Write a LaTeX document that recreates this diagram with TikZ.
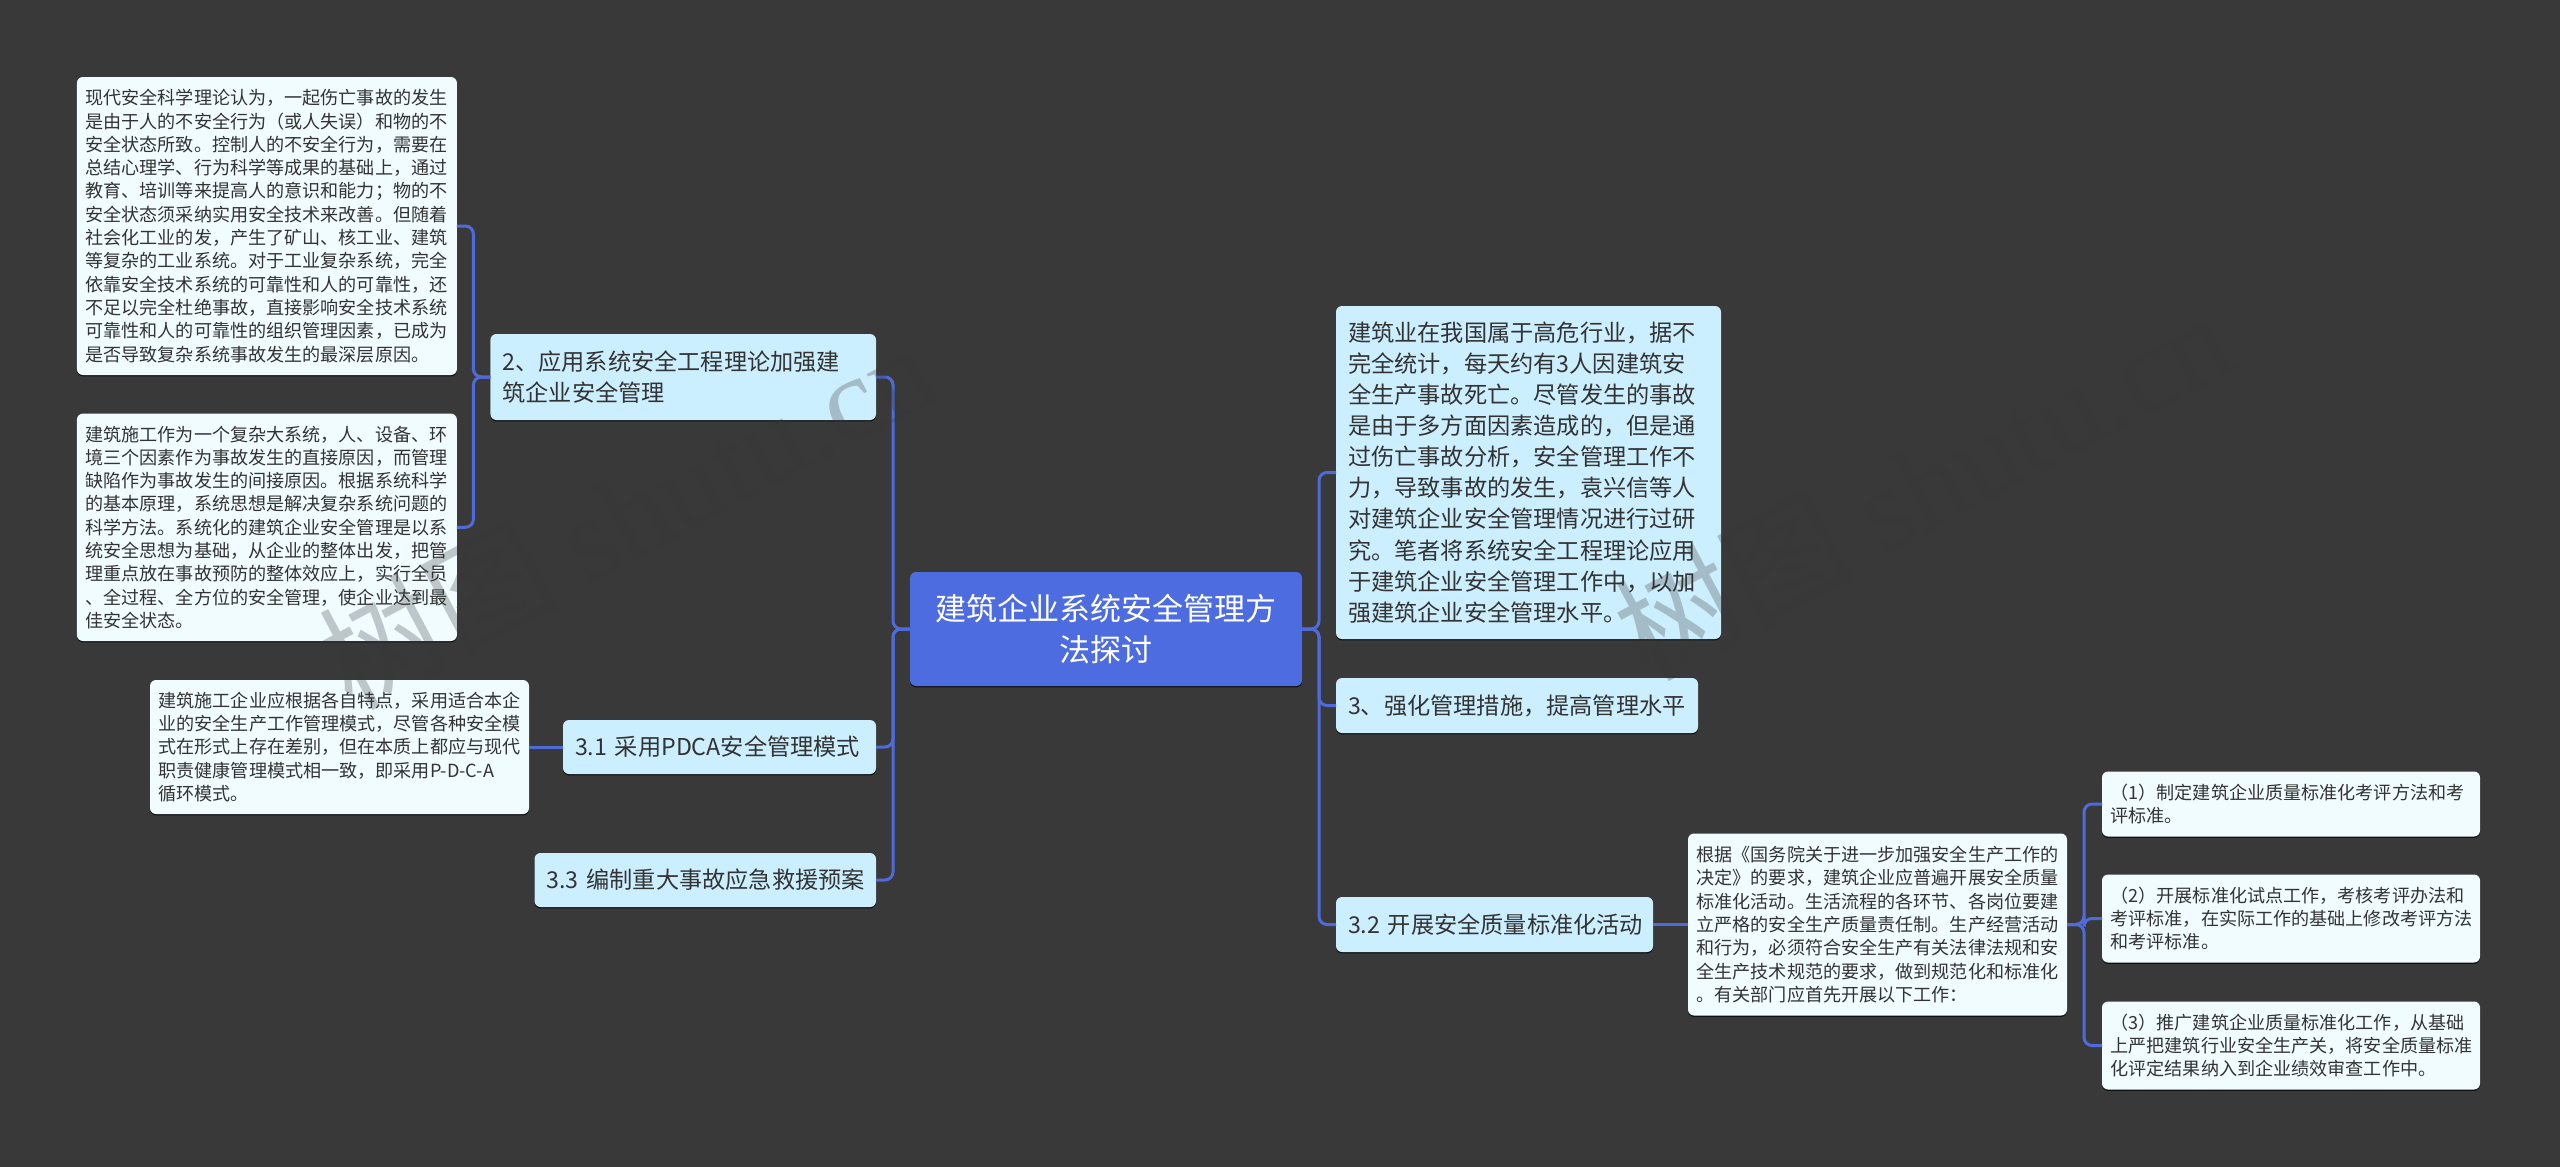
\documentclass[tikz,border=0pt]{standalone}
\usepackage{fontspec}
\setmainfont{Noto Sans CJK SC}
\newfontfamily\markfont{Liberation Serif}
\usetikzlibrary{positioning,shadows}
\definecolor{pagebg}{HTML}{3A393A}
\definecolor{rootfill}{HTML}{4D6CE0}
\definecolor{branchfill}{HTML}{CCEFFF}
\definecolor{leaffill}{HTML}{F0FCFF}
\definecolor{linkcol}{HTML}{4F6BD9}
\definecolor{inkcol}{HTML}{333333}
\definecolor{markcol}{HTML}{363636}
\tikzset{
	sized/.style 2 args={text width=#1, minimum height=#2},
	elbow/.style={to path={-- ++(#1,0) |- (\tikztotarget)}}
}

\begin{document}
\begin{tikzpicture}[x=1pt,y=1pt,outer sep=0pt]
		\tikzstyle{box}=[rectangle,rounded corners=3pt,align=left,text=inkcol,
			drop shadow={shadow xshift=0pt,shadow yshift=-0.7pt,opacity=0.7,fill=black}]
		\tikzstyle{root}=[box,fill=rootfill,text=white,align=center,inner xsep=6pt,
			font=\fontsize{15.5}{20.8}\selectfont]
		\tikzstyle{branch}=[box,fill=branchfill,inner xsep=6pt,
			font=\fontsize{11.6}{15.55}\selectfont]
		\tikzstyle{leaf}=[box,fill=leaffill,inner xsep=4.25pt,
			font=\fontsize{9.05}{11.65}\selectfont]
		\tikzstyle{every edge}=[draw=linkcol,line width=1.5pt,rounded corners=4pt]
		\tikzstyle{wmark}=[text=markcol,text opacity=0.27,anchor=west,rotate=28,
			font=\fontsize{60}{70}\selectfont]

		\useasboundingbox (0,0) rectangle (1280,-583.5);
		\fill[pagebg] (0,0) rectangle (1280,-583.5);

		\node[root,sized={184pt}{57pt}]		(root) at (553,-314.5)	{建筑企业系统安全管理方\\法探讨};

		\node[branch,sized={180.8pt}{43pt}]	(apply) [above left=76pt and 17pt of root]
			{2、应用系统安全工程理论加强建\\筑企业安全管理};
		\node[leaf,sized={181.5pt}{149pt}]	(theory) [above left=-20.5pt and 16.75pt of apply]
			{现代安全科学理论认为，一起伤亡事故的发生\\是由于人的不安全行为（或人失误）和物的不\\安全状态所致。控制人的不安全行为，需要在\\总结心理学、行为科学等成果的基础上，通过\\教育、培训等来提高人的意识和能力；物的不\\安全状态须采纳实用安全技术来改善。但随着\\社会化工业的发，产生了矿山、核工业、建筑\\等复杂的工业系统。对于工业复杂系统，完全\\依靠安全技术系统的可靠性和人的可靠性，还\\不足以完全杜绝事故，直接影响安全技术系统\\可靠性和人的可靠性的组织管理因素，已成为\\是否导致复杂系统事故发生的最深层原因。};
		\node[leaf,sized={181.5pt}{113.7pt}]	(system) [below left=-3.2pt and 16.75pt of apply]
			{建筑施工作为一个复杂大系统，人、设备、环\\境三个因素作为事故发生的直接原因，而管理\\缺陷作为事故发生的间接原因。根据系统科学\\的基本原理，系统思想是解决复杂系统问题的\\科学方法。系统化的建筑企业安全管理是以系\\统安全思想为基础，从企业的整体出发，把管\\理重点放在事故预防的整体效应上，实行全员\\、全过程、全方位的安全管理，使企业达到最\\佳安全状态。};

		\node[branch,sized={144.5pt}{27pt}]	(pdca) [below left=17pt and 17pt of root]
			{3.1~采用PDCA安全管理模式};
		\node[leaf,sized={181pt}{67pt}]		(pdcatext) [left=17pt of pdca]
			{建筑施工企业应根据各自特点，采用适合本企\\业的安全生产工作管理模式，尽管各种安全模\\式在形式上存在差别，但在本质上都应与现代\\职责健康管理模式相一致，即采用P-D-C-A\\循环模式。};
		\node[branch,sized={158.75pt}{27pt}]	(plan) [below left=39.5pt and 0pt of pdca.south east]
			{3.3~编制重大事故应急救援预案};

		\node[branch,sized={180.5pt}{166.5pt}]	(intro) [above right=-33.5pt and 17pt of root]
			{建筑业在我国属于高危行业，据不\\完全统计，每天约有3人因建筑安\\全生产事故死亡。尽管发生的事故\\是由于多方面因素造成的，但是通\\过伤亡事故分析，安全管理工作不\\力，导致事故的发生，袁兴信等人\\对建筑企业安全管理情况进行过研\\究。笔者将系统安全工程理论应用\\于建筑企业安全管理工作中，以加\\强建筑企业安全管理水平。};
		\node[branch,sized={169pt}{27.5pt}]	(harden) [below right=-4pt and 17pt of root]
			{3、强化管理措施，提高管理水平};
		\node[branch,sized={146.5pt}{27.5pt}]	(activity) [below right=105.5pt and 17pt of root]
			{3.2~开展安全质量标准化活动};
		\node[leaf,sized={181pt}{91pt}]		(quality) [right=17.5pt of activity]
			{根据《国务院关于进一步加强安全生产工作的\\决定》的要求，建筑企业应普遍开展安全质量\\标准化活动。生活流程的各环节、各岗位要建\\立严格的安全生产质量责任制。生产经营活动\\和行为，必须符合安全生产有关法律法规和安\\全生产技术规范的要求，做到规范化和标准化\\。有关部门应首先开展以下工作：};

		\node[leaf,sized={180.5pt}{32.5pt}]	(norm) [above right=-1.5pt and 17.5pt of quality]
			{（1）制定建筑企业质量标准化考评方法和考\\评标准。};
		\node[leaf,sized={180.5pt}{44pt}]	(pilot) [right=17.5pt of quality,yshift=3pt]
			{（2）开展标准化试点工作，考核考评办法和\\考评标准，在实际工作的基础上修改考评方法\\和考评标准。};
		\node[leaf,sized={180.5pt}{44pt}]	(promote) [below right=-7pt and 17.5pt of quality]
			{（3）推广建筑企业质量标准化工作，从基础\\上严把建筑行业安全生产关，将安全质量标准\\化评定结果纳入到企业绩效审查工作中。};

		\path (root.west)	edge [elbow=-8.5]	(apply.east)
					edge [elbow=-8.5]	(pdca.east)
					edge [elbow=-8.5]	(plan.east)
		(root.east)		edge [elbow=8.5]	(intro.west)
					edge [elbow=8.5]	(harden.west)
					edge [elbow=8.5]	(activity.west)
		(apply.west)		edge [elbow=-8.5]	(theory.east)
					edge [elbow=-8.5]	(system.east)
		(pdca.west)		edge 			(pdcatext.east)
		(activity.east)		edge 			(quality.west)
		(quality.east)		edge [elbow=8.5]	(norm.west)
					edge [elbow=8.5]	(pilot.west)
					edge [elbow=8.5]	(promote.west);

		\node[wmark]	(markleft) at (162,-337)	{树图 {\markfont shutu.cn}};
		\node[wmark]	(markright) at (810,-322.5)	{树图 {\markfont shutu.cn}};
\end{tikzpicture}
\end{document}
